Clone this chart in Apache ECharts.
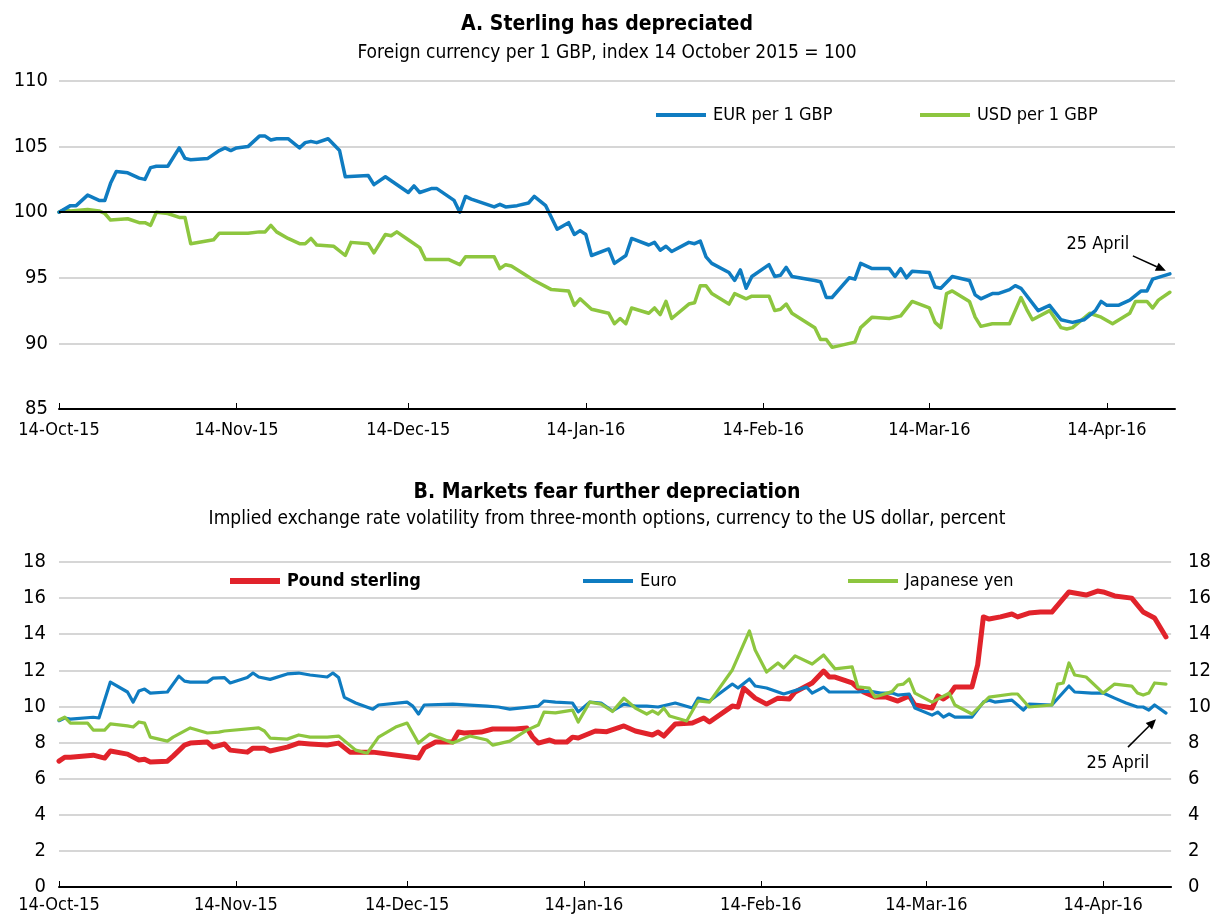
<!DOCTYPE html>
<html>
<head>
<meta charset="utf-8">
<script src="https://cdn.jsdelivr.net/npm/echarts@6/dist/echarts.min.js"></script>
<style>
  html, body { margin: 0; padding: 0; background: #fff; }
  #chart { width: 1214px; height: 915px; }
</style>
</head>
<body>
<div id="chart"></div>
<script>
// x values are days counted from 14 October 2015
const tickLabels = ['14-Oct-15', '14-Nov-15', '14-Dec-15', '14-Jan-16', '14-Feb-16', '14-Mar-16', '14-Apr-16']
const tickDays = [0, 31, 61, 92, 123, 152, 183]

// panel A: index 14 Oct 2015 = 100
const eurDays = [0, 2, 3, 5, 7, 8, 9, 10, 12, 14, 15, 16, 17, 19, 21, 22, 23, 26, 28, 29, 30, 31, 33, 35, 36, 37, 38, 40, 42, 43, 44, 45, 47, 49, 50, 54, 55, 57, 61, 62, 63, 65, 66, 69, 70, 71, 72, 76, 77, 78, 80, 82, 83, 85, 87, 89, 90, 91, 92, 93, 96, 97, 99, 100, 103, 104, 105, 106, 107, 110, 111, 112, 113, 114, 117, 118, 119, 120, 121, 124, 125, 126, 127, 128, 132, 133, 134, 135, 138, 139, 140, 142, 145, 146, 147, 148, 149, 152, 153, 154, 156, 159, 160, 161, 163, 164, 166, 167, 168, 171, 173, 175, 176, 177, 179, 181, 182, 183, 185, 187, 189, 190, 191, 194]
const eurValues = [100, 100.5, 100.5, 101.3, 100.9, 100.9, 102.2, 103.1, 103.0, 102.6, 102.5, 103.4, 103.5, 103.5, 104.9, 104.1, 104.0, 104.1, 104.7, 104.9, 104.7, 104.9, 105.0, 105.8, 105.8, 105.5, 105.6, 105.6, 104.9, 105.3, 105.4, 105.3, 105.6, 104.7, 102.7, 102.8, 102.1, 102.7, 101.5, 102.0, 101.5, 101.8, 101.8, 100.9, 100.0, 101.2, 101.0, 100.4, 100.6, 100.4, 100.5, 100.7, 101.2, 100.5, 98.7, 99.2, 98.3, 98.6, 98.3, 96.7, 97.2, 96.1, 96.7, 98.0, 97.5, 97.7, 97.1, 97.4, 97.0, 97.7, 97.6, 97.8, 96.6, 96.1, 95.4, 94.8, 95.6, 94.2, 95.1, 96.0, 95.1, 95.2, 95.8, 95.1, 94.8, 94.7, 93.5, 93.5, 95.0, 94.9, 96.1, 95.7, 95.7, 95.1, 95.7, 95.0, 95.5, 95.4, 94.3, 94.2, 95.1, 94.8, 93.7, 93.4, 93.8, 93.8, 94.1, 94.4, 94.2, 92.5, 92.9, 91.8, 91.7, 91.6, 91.8, 92.5, 93.2, 92.9, 92.9, 93.3, 94.0, 94.0, 94.9, 95.3]

const usdDays = [0, 1, 2, 5, 7, 8, 9, 12, 14, 15, 16, 17, 19, 21, 22, 23, 27, 28, 33, 35, 36, 37, 38, 40, 42, 43, 44, 45, 48, 50, 51, 54, 55, 57, 58, 59, 61, 63, 64, 65, 68, 70, 71, 76, 77, 78, 79, 83, 86, 89, 90, 91, 93, 96, 97, 98, 99, 100, 103, 104, 105, 106, 107, 110, 111, 112, 113, 114, 117, 118, 120, 121, 124, 125, 126, 127, 128, 132, 133, 134, 135, 139, 140, 142, 145, 147, 149, 152, 153, 154, 155, 156, 159, 160, 161, 163, 166, 167, 168, 169, 170, 173, 175, 176, 177, 180, 182, 184, 187, 188, 190, 191, 192, 194]
const usdValues = [100, 100.2, 100.1, 100.2, 100.1, 99.9, 99.4, 99.5, 99.2, 99.2, 99.0, 100.0, 99.9, 99.6, 99.6, 97.6, 97.9, 98.4, 98.4, 98.5, 98.5, 99.0, 98.5, 98.0, 97.6, 97.6, 98.0, 97.5, 97.4, 96.7, 97.7, 97.6, 96.9, 98.3, 98.2, 98.5, 97.9, 97.3, 96.4, 96.4, 96.4, 96.0, 96.6, 96.6, 95.7, 96.0, 95.9, 94.8, 94.1, 94.0, 92.9, 93.4, 92.6, 92.3, 91.5, 91.9, 91.5, 92.7, 92.3, 92.7, 92.2, 93.2, 91.9, 93.0, 93.1, 94.4, 94.4, 93.8, 93.0, 93.8, 93.4, 93.6, 93.6, 92.5, 92.6, 93.0, 92.3, 91.2, 90.3, 90.3, 89.7, 90.1, 91.2, 92.0, 91.9, 92.1, 93.2, 92.7, 91.6, 91.2, 93.8, 94.0, 93.2, 92.0, 91.3, 91.5, 91.5, 92.5, 93.5, 92.6, 91.8, 92.5, 91.2, 91.1, 91.2, 92.3, 92.0, 91.5, 92.3, 93.2, 93.2, 92.7, 93.3, 93.9]

// panel B: implied volatility, percent
const gbpDays = [0, 1, 2, 6, 8, 9, 12, 14, 15, 16, 19, 20, 22, 23, 26, 27, 29, 30, 33, 34, 36, 37, 40, 42, 44, 47, 49, 51, 55, 62, 63, 64, 66, 69, 70, 71, 74, 76, 80, 82, 83, 84, 86, 87, 89, 90, 91, 94, 96, 99, 101, 104, 105, 106, 108, 111, 113, 114, 115, 118, 119, 120, 122, 124, 126, 128, 129, 132, 134, 135, 136, 139, 140, 141, 143, 145, 147, 149, 150, 153, 154, 155, 156, 157, 160, 161, 162, 163, 165, 167, 168, 170, 172, 174, 177, 180, 182, 183, 185, 188, 190, 192, 194]
const gbpValues = [6.97, 7.19, 7.19, 7.3, 7.14, 7.53, 7.36, 7.03, 7.08, 6.92, 6.97, 7.25, 7.86, 7.97, 8.03, 7.75, 7.92, 7.58, 7.47, 7.69, 7.69, 7.53, 7.75, 7.97, 7.92, 7.86, 7.97, 7.47, 7.47, 7.19, 7.14, 7.69, 8.03, 8.03, 8.58, 8.53, 8.58, 8.75, 8.75, 8.8, 8.3, 7.97, 8.14, 8.03, 8.03, 8.3, 8.25, 8.64, 8.6, 8.92, 8.64, 8.42, 8.58, 8.36, 9.03, 9.08, 9.36, 9.14, 9.36, 10.02, 9.97, 11.02, 10.46, 10.13, 10.46, 10.41, 10.8, 11.3, 11.96, 11.63, 11.63, 11.3, 11.02, 10.8, 10.52, 10.52, 10.3, 10.58, 10.08, 9.91, 10.58, 10.41, 10.63, 11.08, 11.08, 12.3, 14.96, 14.84, 14.96, 15.12, 14.96, 15.17, 15.23, 15.23, 16.34, 16.17, 16.39, 16.34, 16.12, 16.0, 15.23, 14.9, 13.85]

const euroDays = [0, 1, 2, 6, 7, 9, 12, 13, 14, 15, 16, 19, 21, 22, 23, 26, 27, 29, 30, 33, 34, 35, 37, 40, 42, 44, 47, 48, 49, 50, 52, 55, 56, 61, 62, 63, 64, 69, 75, 77, 79, 84, 85, 87, 90, 91, 93, 95, 96, 97, 99, 101, 103, 105, 108, 111, 112, 114, 118, 119, 121, 122, 124, 127, 131, 132, 134, 135, 139, 140, 142, 144, 146, 147, 149, 150, 153, 154, 155, 156, 157, 160, 162, 163, 164, 167, 169, 170, 174, 177, 178, 181, 183, 185, 187, 189, 190, 191, 192, 194]
const euroValues = [9.21, 9.36, 9.3, 9.4, 9.36, 11.35, 10.8, 10.24, 10.85, 10.96, 10.74, 10.8, 11.68, 11.4, 11.35, 11.35, 11.57, 11.6, 11.3, 11.6, 11.85, 11.63, 11.5, 11.8, 11.85, 11.74, 11.63, 11.85, 11.6, 10.5, 10.19, 9.85, 10.08, 10.24, 10.02, 9.58, 10.08, 10.13, 10.02, 9.97, 9.85, 10.02, 10.3, 10.24, 10.19, 9.7, 10.24, 10.19, 9.97, 9.75, 10.13, 10.02, 10.02, 9.97, 10.19, 9.91, 10.46, 10.3, 11.24, 11.02, 11.52, 11.13, 11.02, 10.69, 11.07, 10.74, 11.07, 10.8, 10.8, 10.8, 10.85, 10.74, 10.74, 10.63, 10.69, 9.91, 9.52, 9.69, 9.41, 9.58, 9.41, 9.41, 10.24, 10.35, 10.24, 10.35, 9.8, 10.13, 10.08, 11.13, 10.8, 10.74, 10.74, 10.46, 10.19, 9.97, 9.97, 9.8, 10.08, 9.63]

const yenDays = [0, 1, 2, 5, 6, 8, 9, 12, 13, 14, 15, 16, 19, 20, 23, 26, 28, 29, 35, 36, 37, 40, 42, 44, 47, 49, 52, 54, 56, 59, 61, 63, 65, 69, 72, 75, 76, 79, 82, 84, 85, 87, 90, 91, 93, 95, 97, 99, 101, 103, 104, 105, 106, 107, 110, 112, 114, 118, 119, 121, 122, 124, 126, 127, 129, 132, 134, 136, 139, 140, 142, 143, 146, 147, 148, 149, 150, 153, 156, 157, 160, 163, 167, 168, 170, 174, 175, 176, 177, 178, 180, 183, 185, 188, 189, 190, 191, 192, 194]
const yenValues = [9.25, 9.41, 9.08, 9.08, 8.69, 8.69, 9.03, 8.92, 8.86, 9.14, 9.08, 8.3, 8.08, 8.3, 8.81, 8.53, 8.58, 8.64, 8.81, 8.64, 8.25, 8.19, 8.42, 8.3, 8.3, 8.36, 7.58, 7.41, 8.3, 8.86, 9.08, 7.97, 8.47, 7.97, 8.36, 8.14, 7.86, 8.08, 8.69, 8.97, 9.69, 9.64, 9.8, 9.14, 10.24, 10.13, 9.72, 10.46, 9.91, 9.58, 9.75, 9.58, 9.91, 9.47, 9.19, 10.3, 10.24, 12.02, 12.74, 14.18, 13.13, 11.91, 12.41, 12.13, 12.8, 12.35, 12.85, 12.08, 12.19, 11.08, 11.02, 10.52, 10.82, 11.19, 11.24, 11.52, 10.74, 10.24, 10.74, 10.08, 9.58, 10.52, 10.69, 10.69, 9.97, 10.08, 11.24, 11.3, 12.41, 11.74, 11.63, 10.74, 11.24, 11.13, 10.74, 10.63, 10.74, 11.3, 11.24]

const FONT = '"Liberation Sans Narrow", "Arial Narrow", "DejaVu Sans Condensed", sans-serif'
const BLUE = '#0f7cc1'
const GREEN = '#8dc63f'
const RED = '#e1232b'
const GRID_GREY = '#c8c8c8'

function dayToTime(d) {
  return new Date(2015, 9, 14 + d).getTime()
}
function pairs(days, vals) {
  return days.map((d, i) => [dayToTime(d), vals[i]])
}
const tickTimes = tickDays.map(dayToTime)
const axisStart = dayToTime(0)
const axisEnd = dayToTime(194) + 0.9 * 86400000

// value axis over timestamps, labels only on the 14th of each month
function xAxisFor(gridIndex, labelMargin) {
  return {
    type: 'value',
    gridIndex: gridIndex,
    min: axisStart,
    max: axisEnd,
    axisLine: { show: true, onZero: false, lineStyle: { color: '#000', width: 2 } },
    axisTick: { show: true, inside: true, length: 6, customValues: tickTimes, lineStyle: { color: '#000', width: 1 } },
    axisLabel: {
      customValues: tickTimes,
      hideOverlap: false,
      margin: labelMargin,
      color: '#000',
      fontFamily: FONT,
      fontSize: 18,
      formatter: function (v) {
        const i = tickTimes.indexOf(v)
        return i >= 0 ? tickLabels[i] : ''
      }
    },
    splitLine: { show: false }
  }
}

function yLabel(margin) {
  return { color: '#000', fontFamily: FONT, fontSize: 20, margin: margin }
}

function legendFor(name, left, top, bold) {
  return {
    data: [name],
    left: left,
    top: top,
    padding: 0,
    icon: 'rect',
    itemWidth: 50,
    itemHeight: bold ? 6 : 4,
    selectedMode: false,
    textStyle: { color: '#000', fontFamily: FONT, fontSize: 18, fontWeight: bold ? 'bold' : 'normal', padding: [0, 0, 0, 2] }
  }
}

function lineSeries(name, data, color, width, xIdx, yIdx) {
  return {
    name: name,
    type: 'line',
    xAxisIndex: xIdx,
    yAxisIndex: yIdx,
    data: data,
    symbol: 'none',
    color: color,
    lineStyle: { color: color, width: width, join: 'round', cap: 'round' },
    animation: false
  }
}

const chart = echarts.init(document.getElementById('chart'))

const eurSeries = lineSeries('EUR per 1 GBP', pairs(eurDays, eurValues), BLUE, 3.5, 0, 0)
eurSeries.markLine = {
  silent: true,
  symbol: 'none',
  label: { show: false },
  lineStyle: { color: '#000', width: 2, type: 'solid' },
  data: [{ yAxis: 100 }]
}

chart.setOption({
  animation: false,
  backgroundColor: '#fff',
  title: [
    { text: 'A. Sterling has depreciated', left: 'center', top: 14, padding: 0,
      textStyle: { fontFamily: FONT, fontSize: 21, fontWeight: 'bold', color: '#000' } },
    { text: 'Foreign currency per 1 GBP, index 14 October 2015 = 100', left: 'center', top: 44, padding: 0,
      textStyle: { fontFamily: FONT, fontSize: 19, fontWeight: 'normal', color: '#000' } },
    { text: 'B. Markets fear further depreciation', left: 'center', top: 482, padding: 0,
      textStyle: { fontFamily: FONT, fontSize: 21, fontWeight: 'bold', color: '#000' } },
    { text: 'Implied exchange rate volatility from three-month options, currency to the US dollar, percent', left: 'center', top: 510, padding: 0,
      textStyle: { fontFamily: FONT, fontSize: 19, fontWeight: 'normal', color: '#000' } }
  ],
  legend: [
    legendFor('EUR per 1 GBP', 656, 106, false),
    legendFor('USD per 1 GBP', 920, 106, false),
    legendFor('Pound sterling', 230, 572, true),
    legendFor('Euro', 583, 572, false),
    legendFor('Japanese yen', 848, 572, false)
  ],
  grid: [
    { left: 59, right: 39, top: 81, height: 328 },
    { left: 59, right: 39, top: 562, height: 325 }
  ],
  xAxis: [xAxisFor(0, 12), xAxisFor(1, 9)],
  yAxis: [
    { type: 'value', gridIndex: 0, min: 85, max: 110, interval: 5,
      axisLine: { show: false }, axisTick: { show: false }, axisLabel: yLabel(11),
      splitLine: { show: true, lineStyle: { color: GRID_GREY, width: 1.5 } } },
    { type: 'value', gridIndex: 1, min: 0, max: 18, interval: 2,
      axisLine: { show: false }, axisTick: { show: false }, axisLabel: yLabel(13),
      splitLine: { show: true, lineStyle: { color: GRID_GREY, width: 1.5 } } },
    { type: 'value', gridIndex: 1, position: 'right', min: 0, max: 18, interval: 2,
      axisLine: { show: false }, axisTick: { show: false }, axisLabel: yLabel(17),
      splitLine: { show: false } }
  ],
  series: [
    lineSeries('USD per 1 GBP', pairs(usdDays, usdValues), GREEN, 3.5, 0, 0),
    eurSeries,
    lineSeries('Pound sterling', pairs(gbpDays, gbpValues), RED, 5, 1, 1),
    lineSeries('Euro', pairs(euroDays, euroValues), BLUE, 3.2, 1, 1),
    lineSeries('Japanese yen', pairs(yenDays, yenValues), GREEN, 3.2, 1, 1)
  ]
})

// "25 April" call-outs anchored on the last points
function arrow(tail, tip) {
  const ang = Math.atan2(tip[1] - tail[1], tip[0] - tail[0])
  const L = 10, W = 4.5
  const bx = tip[0] - L * Math.cos(ang), by = tip[1] - L * Math.sin(ang)
  const px = -Math.sin(ang) * W, py = Math.cos(ang) * W
  return [
    { type: 'line', shape: { x1: tail[0], y1: tail[1], x2: bx, y2: by }, style: { stroke: '#000', lineWidth: 1.5 } },
    { type: 'polygon', shape: { points: [tip, [bx + px, by + py], [bx - px, by - py]] }, style: { fill: '#000' } }
  ]
}
const lastEur = chart.convertToPixel({ xAxisIndex: 0, yAxisIndex: 0 }, [dayToTime(eurDays[eurDays.length - 1]), eurValues[eurValues.length - 1]])
const lastEuro = chart.convertToPixel({ xAxisIndex: 1, yAxisIndex: 1 }, [dayToTime(euroDays[euroDays.length - 1]), euroValues[euroValues.length - 1]])
const tipA = [lastEur[0] - 4, lastEur[1] - 3]
const tipB = [lastEuro[0] - 10, lastEuro[1] + 6]
const calloutText = { fill: '#000', fontFamily: FONT, fontSize: 18, textAlign: 'center', textVerticalAlign: 'middle' }
chart.setOption({
  graphic: [].concat(
    arrow([tipA[0] - 33, tipA[1] - 15], tipA),
    arrow([tipB[0] - 28, tipB[1] + 28], tipB),
    [
      { type: 'text', x: tipA[0] - 68, y: tipA[1] - 27, style: Object.assign({ text: '25 April' }, calloutText) },
      { type: 'text', x: tipB[0] - 38, y: tipB[1] + 44, style: Object.assign({ text: '25 April' }, calloutText) }
    ]
  )
})
</script>
</body>
</html>
